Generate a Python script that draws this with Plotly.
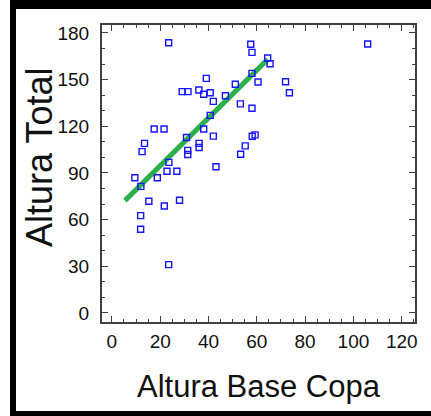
import plotly.graph_objects as go

# Data
altura_base_copa = [23.5, 57.5, 58.0, 64.5, 65.5, 58.0, 39.1, 51.1, 60.5, 71.9,
                    73.5, 29.1, 31.5, 36.0, 38.0, 40.7, 42.0, 47.0, 53.2, 58.0,
                    40.7, 38.0, 42.0, 17.5, 21.6, 30.9, 36.1, 36.1, 31.4, 31.4,
                    13.5, 12.5, 23.6, 22.8, 26.9, 9.5, 18.8, 43.1, 55.2, 53.3,
                    58.1, 59.3, 12.0, 15.3, 21.7, 28.0, 11.9, 11.9, 23.5, 105.9]
altura_total = [173.7, 172.7, 167.5, 163.9, 160.2, 154.0, 150.8, 147.0, 148.5, 148.6,
                141.6, 142.3, 142.3, 143.3, 140.6, 141.6, 136.0, 139.6, 134.4, 131.6,
                127.0, 118.3, 113.7, 118.3, 118.3, 112.8, 109.0, 106.4, 104.5, 101.9,
                109.0, 103.7, 96.8, 91.1, 91.1, 86.9, 86.9, 94.0, 107.4, 102.0,
                113.6, 114.5, 81.4, 71.8, 68.8, 72.5, 62.6, 53.8, 31.1, 172.9]
fit_x = [5.4, 64.5]
fit_y = [72.2, 163.0]

x_ticks = [0, 20, 40, 60, 80, 100, 120]
y_ticks = [0, 30, 60, 90, 120, 150, 180]

W, H = 431, 416
ML, MR, MT, MB = 102, 16, 25, 94
PW, PH = W - ML - MR, H - MT - MB


def px(xp):
    return (xp - ML) / PW


def py(yp):
    return (H - MB - yp) / PH


fig = go.Figure()
fig.add_trace(go.Scatter(
    x=fit_x, y=fit_y, mode="lines",
    line=dict(color="rgb(45,175,75)", width=5),
    showlegend=False, hoverinfo="skip"))
fig.add_trace(go.Scatter(
    x=altura_base_copa, y=altura_total, mode="markers",
    marker=dict(symbol="square-open", size=6, color="rgb(20,20,255)",
                line=dict(width=1.4, color="rgb(20,20,255)")),
    showlegend=False))

axis_common = dict(
    showgrid=False, zeroline=False, showline=True, linecolor="#404040",
    linewidth=2, mirror="ticks", ticks="inside", ticklen=6, tickwidth=1.3,
    tickcolor="#404040",
    tickfont=dict(family="Liberation Sans, Arial, sans-serif", size=19, color="#111111"),
)

fig.update_xaxes(range=[-4.1, 125.5], tickvals=x_ticks, ticktext=[str(v) for v in x_ticks],
                 minor=dict(dtick=5, tick0=0, ticks="inside", ticklen=3, tickcolor="#404040",
                            tickwidth=1.2),
                 ticklabelstandoff=1, **axis_common)
fig.update_yaxes(range=[-5.8, 185.1], tickvals=y_ticks, ticktext=[str(v) for v in y_ticks],
                 minor=dict(dtick=10, tick0=0, ticks="inside", ticklen=3, tickcolor="#404040",
                            tickwidth=1.2),
                 ticklabelstandoff=7, **axis_common)

title_font = "Liberation Sans, Arial, sans-serif"
annotations = [
    dict(text="Altura Base Copa", x=0.5, y=py(386), xref="paper", yref="paper",
         xanchor="center", yanchor="middle", showarrow=False,
         font=dict(family=title_font, size=31, color="#111111")),
    dict(text="Altura Total", x=px(39), y=py(158), xref="paper", yref="paper",
         xanchor="center", yanchor="middle", showarrow=False, textangle=-90,
         font=dict(family=title_font, size=36, color="#111111")),
]

shapes = [
    dict(type="rect", xref="paper", yref="paper", x0=px(10), x1=px(16), y0=py(416), y1=py(0),
         fillcolor="black", line=dict(width=0), layer="above"),
    dict(type="rect", xref="paper", yref="paper", x0=px(10), x1=px(431), y0=py(9), y1=py(0),
         fillcolor="black", line=dict(width=0), layer="above"),
    dict(type="rect", xref="paper", yref="paper", x0=px(10), x1=px(431), y0=py(416), y1=py(411),
         fillcolor="black", line=dict(width=0), layer="above"),
]

fig.update_layout(
    width=W, height=H, margin=dict(l=ML, r=MR, t=MT, b=MB),
    paper_bgcolor="white", plot_bgcolor="white",
    annotations=annotations, shapes=shapes,
)

fig.write_html("out.html", config={"displayModeBar": False},
               post_script="document.body.style.margin='0px';document.body.style.overflow='hidden';")
